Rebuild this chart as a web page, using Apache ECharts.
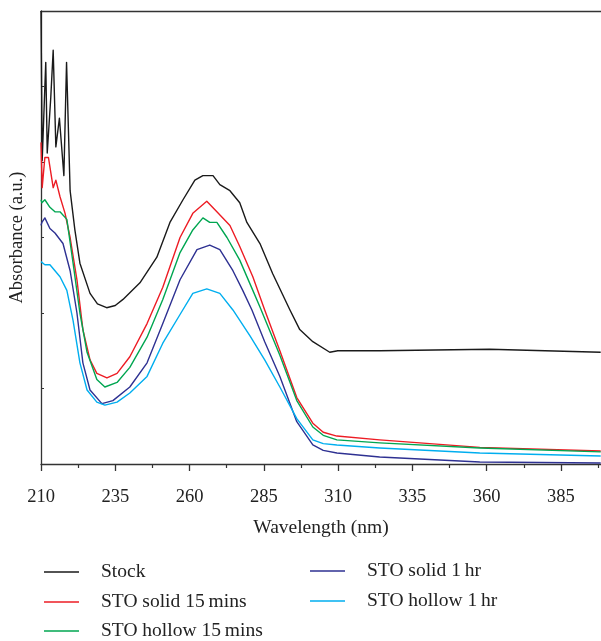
<!DOCTYPE html>
<html>
<head>
<meta charset="utf-8">
<script src="https://cdn.jsdelivr.net/npm/echarts@6.0.0/dist/echarts.min.js"></script>
<style>
  html, body { margin: 0; padding: 0; background: #fff; }
  #main { width: 601px; height: 641px; }
</style>
</head>
<body>
<div id="main"></div>
<script>
// wavelength (nm), absorbance (a.u.)
var stock = [
  [210.0, 3.00], [210.4, 2.01], [211.6, 2.66], [212.1, 2.06], [213.3, 2.43],
  [214.1, 2.74], [215.0, 2.10], [216.2, 2.29], [217.7, 1.91], [218.6, 2.66],
  [219.8, 1.81], [221.4, 1.55], [223.1, 1.33], [226.5, 1.13], [229.0, 1.06],
  [232.1, 1.035], [235.0, 1.05], [237.6, 1.09], [243.3, 1.20], [249.0, 1.37],
  [253.4, 1.60], [257.8, 1.75], [261.8, 1.88], [264.5, 1.91], [267.9, 1.91],
  [270.2, 1.85], [273.6, 1.81], [276.9, 1.73], [279.3, 1.60], [283.7, 1.46],
  [288.0, 1.26], [293.8, 1.02], [297.1, 0.89], [301.5, 0.81], [307.2, 0.74],
  [309.9, 0.75], [324.0, 0.75], [361.0, 0.76], [398.4, 0.74]
];
var solid15 = [
  [210.0, 2.13], [210.4, 1.83], [211.3, 2.03], [212.5, 2.03], [214.1, 1.83],
  [215.0, 1.88], [216.4, 1.77], [218.1, 1.66], [219.8, 1.50], [222.1, 1.22],
  [224.1, 0.89], [226.5, 0.69], [228.8, 0.60], [232.2, 0.57], [235.6, 0.60],
  [239.9, 0.71], [245.7, 0.93], [251.0, 1.17], [256.8, 1.50], [261.1, 1.66],
  [265.8, 1.74], [269.2, 1.67], [273.6, 1.58], [276.9, 1.44], [281.3, 1.24],
  [285.3, 1.02], [290.4, 0.75], [296.1, 0.44], [301.5, 0.27], [305.0, 0.21],
  [309.6, 0.185], [324.0, 0.16], [357.7, 0.11], [398.4, 0.086]
];
var hollow15 = [
  [210.0, 1.75], [210.3, 1.73], [211.3, 1.75], [213.0, 1.70], [214.7, 1.67],
  [216.4, 1.67], [218.7, 1.62], [220.8, 1.33], [223.1, 1.00], [225.5, 0.74],
  [228.8, 0.56], [231.5, 0.51], [235.6, 0.54], [239.9, 0.64], [245.7, 0.84],
  [251.0, 1.09], [256.8, 1.40], [261.1, 1.55], [264.5, 1.63], [266.8, 1.60],
  [269.2, 1.60], [272.6, 1.50], [276.9, 1.35], [281.3, 1.15], [283.7, 1.04],
  [290.4, 0.72], [296.1, 0.42], [301.5, 0.245], [305.0, 0.19], [309.6, 0.16],
  [324.0, 0.14], [357.7, 0.106], [398.4, 0.08]
];
var solid1h = [
  [210.0, 1.58], [210.3, 1.60], [211.3, 1.63], [213.0, 1.56], [214.7, 1.53],
  [217.4, 1.46], [219.8, 1.28], [222.1, 1.00], [224.1, 0.67], [226.5, 0.49],
  [230.5, 0.40], [234.2, 0.42], [239.9, 0.51], [245.7, 0.67], [251.0, 0.93],
  [256.8, 1.22], [262.5, 1.42], [266.8, 1.45], [270.2, 1.42], [274.6, 1.28],
  [277.9, 1.15], [281.0, 1.02], [285.3, 0.81], [290.4, 0.58], [296.1, 0.28],
  [301.5, 0.126], [305.0, 0.09], [309.6, 0.073], [324.0, 0.046], [357.7, 0.013],
  [398.4, 0.007]
];
var hollow1h = [
  [210.0, 1.34], [211.3, 1.32], [213.0, 1.32], [216.4, 1.24], [218.7, 1.15],
  [220.8, 0.95], [223.1, 0.67], [225.5, 0.49], [228.8, 0.41], [231.5, 0.39],
  [235.6, 0.41], [239.9, 0.47], [245.7, 0.58], [251.0, 0.80], [256.8, 0.99],
  [261.1, 1.13], [265.8, 1.16], [270.2, 1.13], [274.6, 1.02], [280.3, 0.85],
  [285.3, 0.69], [290.4, 0.51], [296.1, 0.30], [301.5, 0.16], [305.0, 0.135],
  [309.6, 0.126], [324.0, 0.106], [357.7, 0.073], [398.4, 0.053]
];

var seriesNames = ['Stock', 'STO solid 15\u2009mins', 'STO hollow 15\u2009mins', 'STO solid 1\u2009hr', 'STO hollow 1\u2009hr'];
var seriesColors = ['#1a1a1a', '#ed1c24', '#00a651', '#2e3192', '#00aeef'];
var seriesData = [stock, solid15, hollow15, solid1h, hollow1h];

var majorTicks = [210, 235, 260, 285, 310, 335, 360, 385];
var minorTicks = [222.5, 247.5, 272.5, 297.5, 322.5, 347.5, 372.5, 397.5];

// legend slots: two columns, one entry per row
var legendLeft = [44, 44, 44, 310, 310];
var legendTop = [562, 592, 621, 561, 591];

var serif = 'Liberation Serif';
var axisColor = '#333';

var chart = echarts.init(document.getElementById('main'));

var series = [];
var legends = [];
for (var i = 0; i < seriesData.length; i++) {
    series.push({
        name: seriesNames[i],
        type: 'line',
        xAxisIndex: 0,
        yAxisIndex: 0,
        data: seriesData[i],
        symbol: 'none',
        clip: true,
        color: seriesColors[i],
        lineStyle: { width: 1.4, color: seriesColors[i], join: 'round' }
    });
    legends.push({
        data: [seriesNames[i]],
        left: legendLeft[i], top: legendTop[i],
        padding: 0,
        icon: 'rect', itemWidth: 35, itemHeight: 1.5,
        textStyle: {
            fontFamily: serif,
            fontSize: 19.5,
            color: '#222',
            lineHeight: 20,
            padding: [0, 0, 0, 17]
        }
    });
}

var option = {
    animation: false,
    backgroundColor: '#fff',
    grid: { left: 41, top: 11, right: 0, bottom: 177, containLabel: false, outerBoundsMode: 'none' },
    legend: legends,
    xAxis: [
        {
            type: 'value', position: 'bottom',
            min: 210, max: 398.5,
            name: 'Wavelength (nm)', nameLocation: 'middle', nameGap: 54,
            nameTextStyle: { fontFamily: serif, fontSize: 19.5, color: '#222' },
            axisLine: { lineStyle: { color: axisColor, width: 1.3 } },
            axisTick: { customValues: majorTicks, length: 7, lineStyle: { color: axisColor, width: 1.3 } },
            axisLabel: { customValues: majorTicks, margin: 24, fontFamily: serif, fontSize: 18.5, color: '#222' },
            splitLine: { show: false }
        },
        {
            type: 'value', position: 'bottom',
            min: 210, max: 398.5,
            axisLine: { show: false },
            axisTick: { customValues: minorTicks, length: 4, lineStyle: { color: axisColor, width: 1.2 } },
            axisLabel: { show: false },
            splitLine: { show: false }
        },
        {
            type: 'value', position: 'top',
            min: 210, max: 398.5,
            axisLine: { lineStyle: { color: axisColor, width: 1.3 } },
            axisTick: { show: false },
            axisLabel: { show: false },
            splitLine: { show: false }
        }
    ],
    yAxis: [
        {
            type: 'value',
            min: 0, max: 3, interval: 0.5,
            name: 'Absorbance (a.u.)', nameLocation: 'middle', nameGap: 14,
            nameTextStyle: { fontFamily: serif, fontSize: 18.5, color: '#222' },
            axisLine: { show: true, lineStyle: { color: axisColor, width: 1.3 } },
            axisTick: { show: true, inside: true, length: 3, lineStyle: { color: axisColor } },
            axisLabel: { show: false },
            splitLine: { show: false }
        }
    ],
    series: series
};

chart.setOption(option);
</script>
</body>
</html>
